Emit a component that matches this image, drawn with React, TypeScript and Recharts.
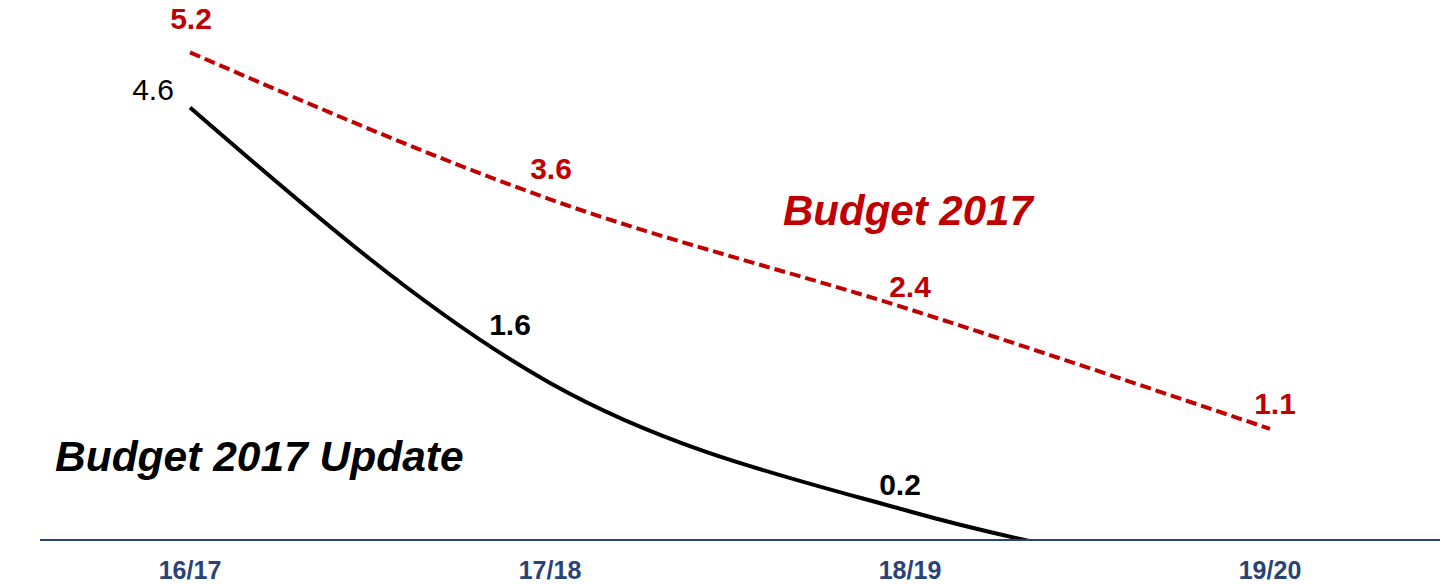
import { LineChart, Line, XAxis, YAxis, LabelList } from 'recharts';

const categories = ['16/17', '17/18', '18/19', '19/20'];
const budget2017 = [5.2, 3.6, 2.4, 1.1];
const budget2017Update = [4.6, 1.6, 0.2, -0.6];

const data = categories.map((period, i) => ({
    period,
    budget: budget2017[i],
    update: budget2017Update[i],
}));

const FONT = 'Arial, "Liberation Sans", sans-serif';
const RED = '#C00000';
const NAVY = '#2A4374';

// hand placed label nudges, like the original slide
const redNudge = [[1, -34], [1, -31], [0, -23], [5, -25]];
const blackNudge = [[-37, -18], [-40, -58], [-10, -27], [0, 0]];

function makeLabel(color: string, nudge: number[][], boldFrom: number) {
    return (props: any) => {
        const { x, y, value, index } = props;
        if (value < 0) return null;
        const [dx, dy] = nudge[index] || [0, 0];
        return (
            <text
                x={x + dx}
                y={y + dy}
                textAnchor="middle"
                dominantBaseline="central"
                fill={color}
                fontFamily={FONT}
                fontSize={30}
                fontWeight={index >= boldFrom ? 'bold' : 'normal'}
            >
                {value.toFixed(1)}
            </text>
        );
    };
}

export default function App() {
    return (
        <div style={{ position: 'absolute', left: 0, top: 0, width: 1445, height: 584, background: '#fff' }}>
            <LineChart width={1445} height={584} data={data} margin={{ top: 0, right: 5, left: 40, bottom: 0 }}>
                <XAxis
                    dataKey="period"
                    height={44}
                    padding={{ left: 150, right: 170 }}
                    axisLine={{ stroke: NAVY, strokeWidth: 2 }}
                    tickLine={false}
                    tickMargin={15}
                    tick={{ fill: NAVY, fontFamily: FONT, fontSize: 25, fontWeight: 'bold' }}
                />
                <YAxis hide domain={[-0.11, 5.77]} allowDataOverflow />
                <Line
                    dataKey="budget"
                    type="monotone"
                    stroke={RED}
                    strokeWidth={4}
                    strokeDasharray="11 5"
                    dot={false}
                    isAnimationActive={false}
                >
                    <LabelList dataKey="budget" content={makeLabel(RED, redNudge, 0)} />
                </Line>
                <Line
                    dataKey="update"
                    type="monotone"
                    stroke="#000"
                    strokeWidth={4}
                    dot={false}
                    isAnimationActive={false}
                >
                    <LabelList dataKey="update" content={makeLabel('#000', blackNudge, 1)} />
                </Line>
            </LineChart>
            <div style={{ position: 'absolute', left: 783, top: 190, color: RED, fontFamily: FONT, fontSize: 42, fontWeight: 'bold', fontStyle: 'italic', whiteSpace: 'nowrap', lineHeight: 1 }}>
                Budget 2017
            </div>
            <div style={{ position: 'absolute', left: 55, top: 436, color: '#000', fontFamily: FONT, fontSize: 42.5, fontWeight: 'bold', fontStyle: 'italic', whiteSpace: 'nowrap', lineHeight: 1 }}>
                Budget 2017 Update
            </div>
        </div>
    );
}
